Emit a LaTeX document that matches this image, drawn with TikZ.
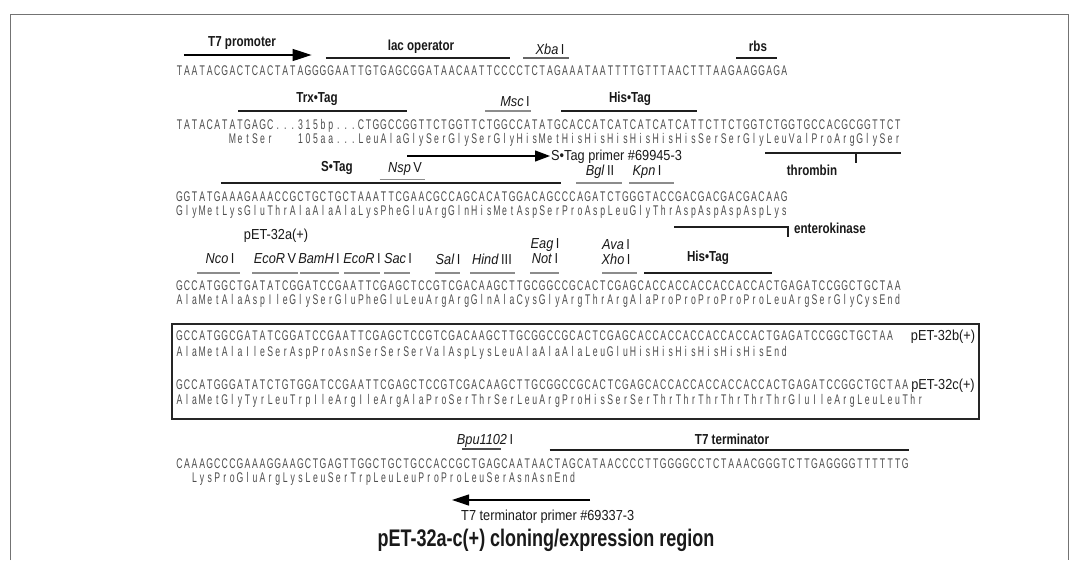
\documentclass[tikz,border=0pt]{standalone}
\usepackage{fontspec}
\setmainfont{Liberation Sans}
\newfontfamily\seqfont[FakeStretch=0.62]{Liberation Sans}
\newfontfamily\labfont[FakeStretch=0.88]{Liberation Sans}
\newfontfamily\featfont[FakeStretch=0.8]{Liberation Sans}
\newfontfamily\titfont[FakeStretch=0.75]{Liberation Sans}
\usetikzlibrary{arrows.meta}

% fixed-pitch sequence cells
\newlength\cw \setlength\cw{7.56pt}
\def\seqloop#1{\ifx#1\relax\else\hbox to\cw{\hss#1\hss}\expandafter\seqloop\fi}
\newcommand\seqline[1]{\seqloop#1\relax}
\newcommand\site[2]{\textit{#1}\,#2}

\tikzset{
  seq/.style={font=\seqfont\fontsize{14}{15}\selectfont, inner sep=0, anchor=base west, text=black!70},
  lab/.style={font=\labfont\fontsize{14.5}{16}\selectfont, inner sep=0, text=black!90},
  featlab/.style={font=\featfont\bfseries\fontsize{14.5}{16}\selectfont, inner sep=0, text=black!90},
  feat/.style={line width=2.2pt, black!88},
  sitebar/.style={line width=1.8pt, black!45},
  cut/.style={line width=1.4pt, black!88},
  primer/.style={line width=1.2pt, black, -{Triangle[length=15pt,width=11pt]}},
}

\begin{document}
\begin{tikzpicture}[x=1pt, y=-1pt]
\useasboundingbox (0,0) rectangle (1077,560);
\fill[white] (0,0) rectangle (1077,560);

% outer frame
\draw[black!55, line width=0.8pt] (10,560) -- (10,14) -- (1068,14) -- (1068,560);

% ---------- sequence lines ----------
\node[seq] (s1) at (175.5,75) {\seqline{TAATACGACTCACTATAGGGGAATTGTGAGCGGATAACAATTCCCCTCTAGAAATAATTTTGTTTAACTTTAAGAAGGAGA}};
\node[seq] (s2) at (175.5,129) {\seqline{TATACATATGAGC...315bp...CTGGCCGGTTCTGGTTCTGGCCATATGCACCATCATCATCATCATTCTTCTGGTCTGGTGCCACGCGGTTCT}};
\node[seq] (a2) at (175.5,143) {\seqline{~~~~~~~MetSer~~~105aa...LeuAlaGlySerGlySerGlyHisMetHisHisHisHisHisHisSerSerGlyLeuValProArgGlySer}};
\node[seq] (s3) at (175.5,201) {\seqline{GGTATGAAAGAAACCGCTGCTGCTAAATTCGAACGCCAGCACATGGACAGCCCAGATCTGGGTACCGACGACGACGACAAG}};
\node[seq] (a3) at (175.5,215) {\seqline{GlyMetLysGluThrAlaAlaAlaLysPheGluArgGlnHisMetAspSerProAspLeuGlyThrAspAspAspAspLys}};
\node[seq] (s4) at (175.5,290) {\seqline{GCCATGGCTGATATCGGATCCGAATTCGAGCTCCGTCGACAAGCTTGCGGCCGCACTCGAGCACCACCACCACCACCACTGAGATCCGGCTGCTAA}};
\node[seq] (a4) at (175.5,304) {\seqline{AlaMetAlaAspIleGlySerGluPheGluLeuArgArgGlnAlaCysGlyArgThrArgAlaProProProProProLeuArgSerGlyCysEnd}};
\node[seq] (s5) at (175.5,340) {\seqline{GCCATGGCGATATCGGATCCGAATTCGAGCTCCGTCGACAAGCTTGCGGCCGCACTCGAGCACCACCACCACCACCACTGAGATCCGGCTGCTAA}};
\node[seq] (a5) at (175.5,356) {\seqline{AlaMetAlaIleSerAspProAsnSerSerSerValAspLysLeuAlaAlaAlaLeuGluHisHisHisHisHisHisEnd}};
\node[seq] (s6) at (175.5,389) {\seqline{GCCATGGGATATCTGTGGATCCGAATTCGAGCTCCGTCGACAAGCTTGCGGCCGCACTCGAGCACCACCACCACCACCACTGAGATCCGGCTGCTAA}};
\node[seq] (a6) at (175.5,404) {\seqline{AlaMetGlyTyrLeuTrpIleArgIleArgAlaProSerThrSerLeuArgProHisSerSerThrThrThrThrThrThrGluIleArgLeuLeuThr}};
\node[seq] (s7) at (175.5,468) {\seqline{CAAAGCCCGAAAGGAAGCTGAGTTGGCTGCTGCCACCGCTGAGCAATAACTAGCATAACCCCTTGGGGCCTCTAAACGGGTCTTGAGGGGTTTTTTG}};
\node[seq] (a7) at (175.5,482) {\seqline{~~LysProGluArgLysLeuSerTrpLeuLeuProProLeuSerAsnAsnEnd}};

% pET-32b/c alternatives
\draw[black!85, line width=1.1pt] (172,324) rectangle (979,419);
\node[lab] (lb) at (943,337) {pET-32b(+)};
\node[lab] (lc) at (943,386) {pET-32c(+)};

% ---------- bars and arrows in sequence positions ----------
\begin{scope}[shift={(175.5,0)}, x=7.56pt]
  % row above line 1
  \draw[primer, line width=1.4pt, -{Triangle[length=19pt,width=12pt]}] (1.1,55) -- (18,55);
  \draw[feat] (19.9,58) -- (44.3,58);
  \draw[sitebar, black!60] (46,58) -- (52,58);
  \draw[feat] (74.2,58) -- (79.6,58);
  % row above line 2
  \draw[feat] (8.3,111) -- (30.6,111);
  \draw[sitebar] (41,111) -- (47,111);
  \draw[feat] (51,111) -- (69,111);
  % thrombin
  \draw[cut] (78,153) -- (96,153);
  \draw[cut] (90,153) -- (90,163);
  % row above line 3
  \draw[feat] (6,183) -- (51,183);
  \draw[sitebar, line width=1.3pt] (27,179.5) -- (33,179.5);
  \draw[sitebar] (53,183) -- (59,183);
  \draw[sitebar] (60,183) -- (66,183);
  % enterokinase
  \draw[cut] (66,227) -- (81,227) -- (81,237);
  % T7 terminator
  \draw[feat] (49.5,450) -- (97,450);
\end{scope}

% S-Tag primer and T7 terminator primer
\draw[primer] (407,156) -- (550,156);
\draw[primer, -{Triangle[length=17pt,width=11pt]}] (590,500) -- (452,500);

% polylinker site bars
\foreach \a/\b in {197/240, 252/298, 300/339, 344/380, 384/410, 435/460, 470/515, 530/559, 602/637}
  \draw[sitebar] (\a,273) -- (\b,273);
\draw[feat] (644,273) -- (772,273);

% ---------- labels ----------
\node[featlab] (t7p) at (242,43) {T7 promoter};
\node[featlab] (lac) at (421,47) {lac operator};
\node[lab] (xba) at (550,49) {\site{Xba}{I}};
\node[featlab] (rbs) at (758,46) {rbs};

\node[featlab] (trx) at (317,99) {Trx•Tag};
\node[lab] (msc) at (515,102) {\site{Msc}{I}};
\node[featlab] (his1) at (630,99) {His•Tag};

\node[lab, anchor=west] (spr) at (551,157) {S•Tag primer \#69945-3};
\node[featlab] (thr) at (812,170) {thrombin};
\node[featlab] (stag) at (337,168) {S•Tag};
\node[lab] (nsp) at (405,169) {\site{Nsp}{V}};
\node[lab] (bgl) at (600,172) {\site{Bgl}{II}};
\node[lab] (kpn) at (647,172) {\site{Kpn}{I}};

\node[featlab, anchor=west] (ent) at (794,228) {enterokinase};

\node[lab] (p32a) at (276,236) {pET-32a(+)};
\node[lab] (eag) at (545,245) {\site{Eag}{I}};
\node[lab] (ava) at (616,245) {\site{Ava}{I}};
\node[lab] (nco) at (220,259) {\site{Nco}{I}};
\node[lab] (ecv) at (275,259) {\site{EcoR}{V}};
\node[lab] (bam) at (319,259) {\site{BamH}{I}};
\node[lab] (eco) at (362,259) {\site{EcoR}{I}};
\node[lab] (sac) at (398,259) {\site{Sac}{I}};
\node[lab] (sal) at (448,259) {\site{Sal}{I}};
\node[lab] (hin) at (492,259) {\site{Hind}{III}};
\node[lab] (not) at (545,259) {\site{Not}{I}};
\node[lab] (xho) at (616,259) {\site{Xho}{I}};
\node[featlab] (his2) at (708,258) {His•Tag};

\node[lab] (bpu) at (485,441) {\site{Bpu1102}{I}};
\draw[sitebar, black!70, line width=1.2pt] (462,449) -- (501,449);
\node[featlab] (t7t) at (732,439) {T7 terminator};
\node[lab, anchor=west] (tpr) at (461,517) {T7 terminator primer \#69337-3};

\node[inner sep=0, font=\titfont\bfseries\fontsize{24}{27}\selectfont, text=black!90] (title) at (546,540) {pET-32a-c(+) cloning/expression region};
\end{tikzpicture}
\end{document}
